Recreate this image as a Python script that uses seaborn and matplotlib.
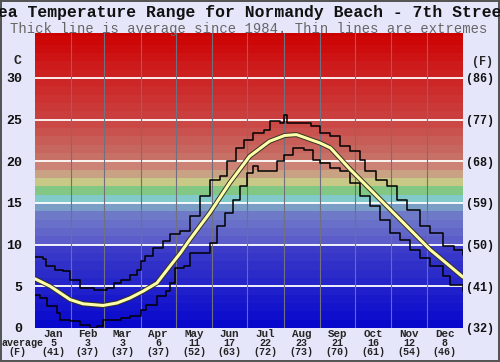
import numpy as np
import pandas as pd
import seaborn as sns
import matplotlib
matplotlib.use('Agg')
import matplotlib.pyplot as plt

# %% data (day of year, deg C)
avg_day = [0, 13, 30, 41, 58, 70, 81, 92, 104, 115, 124, 132, 149, 166, 183, 200, 213, 223,
           235, 243, 252, 269, 286, 303, 320, 337, 354, 365]
avg_temp = [5.9, 5.0, 3.4, 2.9, 2.7, 3.0, 3.6, 4.4, 5.4, 7.4, 9.0, 10.6, 13.8, 17.4, 20.6, 22.4,
            23.1, 23.2, 22.6, 22.2, 21.6, 19.0, 16.6, 14.2, 11.8, 9.4, 7.4, 6.1]

max_day = [0, 7, 9, 17, 24, 30, 38, 50, 61, 67, 73, 81, 87, 90, 94, 101, 109, 115, 124, 132,
           141, 149, 158, 164, 171, 178, 186, 195, 200, 209, 212, 215, 229, 235, 243, 252,
           260, 269, 277, 281, 291, 300, 309, 317, 328, 337, 348, 357, 365]
max_temp = [8.5, 8.3, 7.4, 7.0, 6.8, 5.8, 4.8, 4.6, 4.8, 5.4, 5.8, 6.4, 7.0, 8.0, 8.6, 9.6,
            10.4, 11.3, 11.6, 13.4, 15.8, 17.8, 18.2, 20.0, 21.6, 22.6, 23.4, 23.8, 24.8, 24.6,
            25.5, 24.6, 24.6, 24.2, 23.4, 23.0, 21.8, 21.2, 20.2, 18.8, 17.8, 17.0, 15.4, 14.2,
            12.2, 11.4, 9.8, 9.4, 8.8]

min_day = [0, 4, 10, 19, 21, 30, 38, 47, 53, 58, 64, 73, 81, 90, 95, 104, 112, 115, 119, 127,
           132, 146, 149, 155, 162, 169, 175, 181, 186, 190, 198, 206, 212, 220, 229, 237,
           243, 252, 260, 269, 277, 286, 294, 303, 311, 320, 328, 337, 348, 354, 365]
min_temp = [4.0, 3.6, 2.6, 1.8, 1.0, 0.8, 0.4, 0.0, 0.2, 1.0, 1.0, 1.2, 1.4, 2.2, 2.8, 3.8,
            4.4, 5.4, 7.2, 7.4, 9.0, 9.0, 10.2, 12.2, 13.8, 15.4, 17.0, 18.6, 19.4, 18.8,
            18.8, 20.0, 20.8, 21.6, 21.4, 20.2, 19.8, 19.2, 18.8, 17.4, 15.8, 14.6, 13.0,
            11.4, 10.6, 9.4, 8.4, 7.4, 6.2, 5.2, 4.4]

months = ['Jan', 'Feb', 'Mar', 'Apr', 'May', 'Jun', 'Jul', 'Aug', 'Sep', 'Oct', 'Nov', 'Dec']
month_days = [31, 28, 31, 30, 31, 30, 31, 31, 30, 31, 30, 31]
month_avg_c = ['5', '3', '3', '6', '11', '17', '22', '23', '21', '16', '12', '8']
month_avg_f = ['(41)', '(37)', '(37)', '(37)', '(52)', '(63)', '(72)', '(73)', '(70)', '(61)', '(54)', '(46)']
c_ticks = [0, 5, 10, 15, 20, 25, 30]
f_ticks = ['(32)', '(41)', '(50)', '(59)', '(68)', '(77)', '(86)']

df_avg = pd.DataFrame({'day': avg_day, 'temp': avg_temp})
df_max = pd.DataFrame({'day': max_day, 'temp': max_temp})
df_min = pd.DataFrame({'day': min_day, 'temp': min_temp})

# %% style
sns.set_style('white')
plt.rcParams['font.family'] = ['Liberation Mono', 'DejaVu Sans Mono']
bg = '#e6e6fa'

fig = plt.figure(figsize=(5, 3.62), dpi=100, facecolor=bg, edgecolor='#555555', linewidth=1.5)
ax = fig.add_axes([0.07, 0.094, 0.856, 0.815])

# colour bands, one per degree
anchor_t = [0, 9, 10, 13, 14, 15, 16, 17, 18, 19, 20, 25, 30, 35]
anchor_rgb = [(8, 8, 205), (60, 60, 200), (92, 92, 202), (110, 122, 200), (122, 158, 198),
              (130, 202, 202), (130, 200, 132), (200, 200, 135), (200, 162, 130),
              (205, 130, 118), (198, 112, 102), (203, 62, 62), (205, 32, 32), (205, 0, 0)]
anchor_rgb = np.array(anchor_rgb) / 255.0
for t in range(36):
    col = [np.interp(t, anchor_t, anchor_rgb[:, k]) for k in range(3)]
    ax.axhspan(t, t + 1, color=col, lw=0, zorder=0)

for t in c_ticks[1:]:
    ax.axhline(t, color='white', lw=1.3, zorder=1)
bounds = np.cumsum(month_days)
for b in bounds[:-1]:
    ax.axvline(b, color='#707080', lw=0.8, zorder=1)

# lines
sns.lineplot(data=df_max, x='day', y='temp', ax=ax, color='black', lw=1.1,
             drawstyle='steps-post', zorder=3)
sns.lineplot(data=df_min, x='day', y='temp', ax=ax, color='black', lw=1.1,
             drawstyle='steps-post', zorder=3)
sns.lineplot(data=df_avg, x='day', y='temp', ax=ax, color='#333322', lw=3.6, zorder=4)
sns.lineplot(data=df_avg, x='day', y='temp', ax=ax, color='#ffffaa', lw=2.2, zorder=5)

ax.set_xlim(0, 365)
ax.set_ylim(0, 35.4)
ax.set_xlabel('')
ax.set_ylabel('')
for s in ax.spines.values():
    s.set_visible(False)

ax.set_yticks(c_ticks)
ax.set_yticklabels([str(c) for c in c_ticks], fontsize=9.5, fontweight='bold', color='#111111')
ax.tick_params(axis='y', length=0, pad=9)
ax.set_xticks([])

ax2 = ax.twinx()
ax2.set_ylim(ax.get_ylim())
ax2.set_yticks(c_ticks)
ax2.set_yticklabels(f_ticks, fontsize=8.5, fontweight='bold', color='#111111')
ax2.tick_params(axis='y', length=0, pad=2)
for s in ax2.spines.values():
    s.set_visible(False)

# month labels and averages below
centers = bounds - np.array(month_days) / 2.0
for m, cx, vc, vf in zip(months, centers, month_avg_c, month_avg_f):
    ax.text(cx, -0.7, m, ha='center', va='center', fontsize=7.8, fontweight='bold',
            transform=ax.transData, clip_on=False)
    ax.text(cx, -1.8, vc, ha='center', va='center', fontsize=7.2, fontweight='bold',
            color='#222222', transform=ax.transData, clip_on=False)
    ax.text(cx, -2.9, vf, ha='center', va='center', fontsize=7.2, fontweight='bold',
            color='#222222', transform=ax.transData, clip_on=False)

fig.text(2 / 500, 1 - 343 / 362, 'average', ha='left', va='center', fontsize=7.2,
         fontweight='bold', color='#222222')
fig.text(17 / 500, 1 - 352 / 362, '(F)', ha='center', va='center', fontsize=7.2,
         fontweight='bold', color='#222222')
fig.text(18 / 500, 1 - 61 / 362, 'C', ha='center', va='center', fontsize=9.5, fontweight='bold')
fig.text(482 / 500, 1 - 62 / 362, '(F)', ha='center', va='center', fontsize=8.5, fontweight='bold')

fig.text(0.5, 1 - 12.5 / 362, 'Sea Temperature Range for Normandy Beach - 7th Street',
         ha='center', va='center', fontsize=11.8, fontweight='bold', color='#111111')
fig.text(0.497, 1 - 28.5 / 362, 'Thick line is average since 1984. Thin lines are extremes',
         ha='center', va='center', fontsize=10, color='#666666')

plt.savefig('out.png', dpi=100, facecolor=fig.get_facecolor(), edgecolor=fig.get_edgecolor())
